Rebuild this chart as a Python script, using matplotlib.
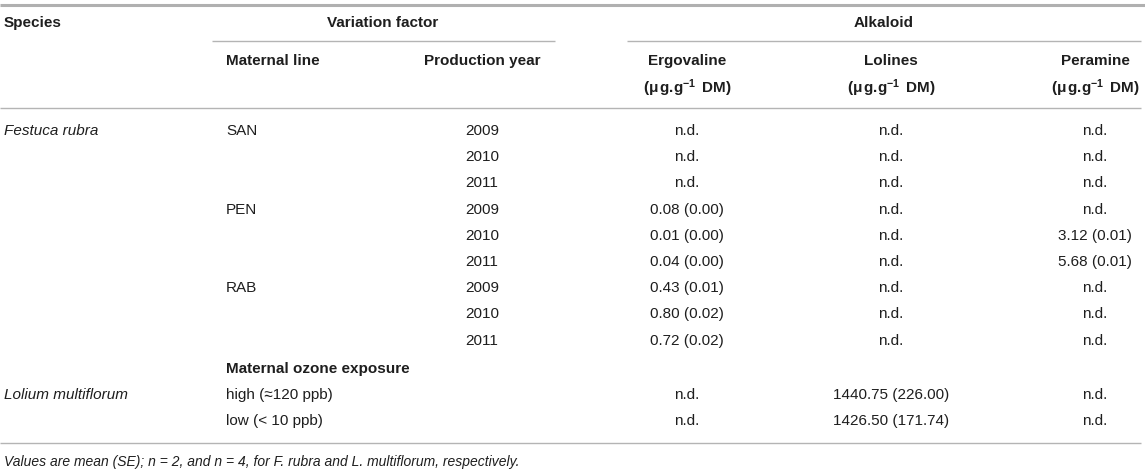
import matplotlib
matplotlib.use("Agg")
import matplotlib.pyplot as plt

plt.rcParams['font.family'] = ['Liberation Sans', 'DejaVu Sans']
plt.rcParams['mathtext.fontset'] = 'custom'
plt.rcParams['mathtext.rm'] = 'Liberation Sans:bold'
plt.rcParams['mathtext.bf'] = 'Liberation Sans:bold'
plt.rcParams['mathtext.it'] = 'Liberation Sans:italic'

# ---- data ----
species = ["Festuca rubra", "Lolium multiflorum"]
maternal_lines = ["SAN", "PEN", "RAB"]
years = ["2009", "2010", "2011"]
ozone_levels = ["high (≈120 ppb)", "low (< 10 ppb)"]
col_headers = ["Ergovaline", "Lolines", "Peramine"]
unit_label = r"(μ$\,$g.g$^{\mathbf{-1}}\,$ DM)"
ergovaline = ["n.d.", "n.d.", "n.d.", "0.08 (0.00)", "0.01 (0.00)", "0.04 (0.00)",
              "0.43 (0.01)", "0.80 (0.02)", "0.72 (0.02)", "n.d.", "n.d."]
lolines = ["n.d."] * 9 + ["1440.75 (226.00)", "1426.50 (171.74)"]
peramine = ["n.d.", "n.d.", "n.d.", "n.d.", "3.12 (0.01)", "5.68 (0.01)",
            "n.d.", "n.d.", "n.d.", "n.d.", "n.d."]
footnote = "Values are mean (SE); n = 2, and n = 4, for F. rubra and L. multiflorum, respectively."

W, H = 1145, 471
fig = plt.figure(figsize=(W / 100, H / 100), dpi=100)
ax = fig.add_axes([0, 0, 1, 1])
ax.set_xlim(0, W)
ax.set_ylim(H, 0)
ax.axis('off')

TXT = '#1e1e1e'
LINE = '#b4b4b4'
FS = 11.0

def t(x, y, s, ha='left', bold=False, italic=False, fs=FS):
    ax.text(x, y, s, ha=ha, va='center', fontsize=fs, color=TXT,
            fontweight='bold' if bold else 'normal',
            fontstyle='italic' if italic else 'normal')

def hline(x0, x1, y, lw=1.0, c=LINE):
    ax.plot([x0, x1], [y, y], color=c, lw=lw, solid_capstyle='butt')

# rules
hline(0, 1145, 4.5, lw=2.2, c='#b0b0b0')
hline(212, 555, 41)
hline(627, 1141, 41)
hline(0, 1141, 108)
hline(0, 1141, 443)

# headers
t(4, 23, "Species", bold=True)
t(383, 23, "Variation factor", ha='center', bold=True)
t(884, 23, "Alkaloid", ha='center', bold=True)
t(226, 61, "Maternal line", bold=True)
t(482, 61, "Production year", ha='center', bold=True)
col_x = [687, 891, 1095]
for cx, h in zip(col_x, col_headers):
    t(cx, 61, h, ha='center', bold=True)
    t(cx, 88, unit_label, ha='center', bold=True)

# rows
row_y0, row_dy = 131, 26.2
fr_rows = [row_y0 + i * row_dy for i in range(len(maternal_lines) * len(years))]
t(4, fr_rows[0], species[0], italic=True)
for i, ml in enumerate(maternal_lines):
    t(226, fr_rows[i * len(years)], ml)
    for j, yr in enumerate(years):
        t(482, fr_rows[i * len(years) + j], yr, ha='center')

t(226, 369, "Maternal ozone exposure", bold=True)
lm_rows = [395, 421]
t(4, lm_rows[0], species[1], italic=True)
for y, lev in zip(lm_rows, ozone_levels):
    t(226, y, lev)

all_rows = fr_rows + lm_rows
for cx, vals in zip(col_x, [ergovaline, lolines, peramine]):
    for y, v in zip(all_rows, vals):
        t(cx, y, v, ha='center')

t(4, 462, footnote, italic=True, fs=10.0)

fig.savefig("out.png", dpi=100)
